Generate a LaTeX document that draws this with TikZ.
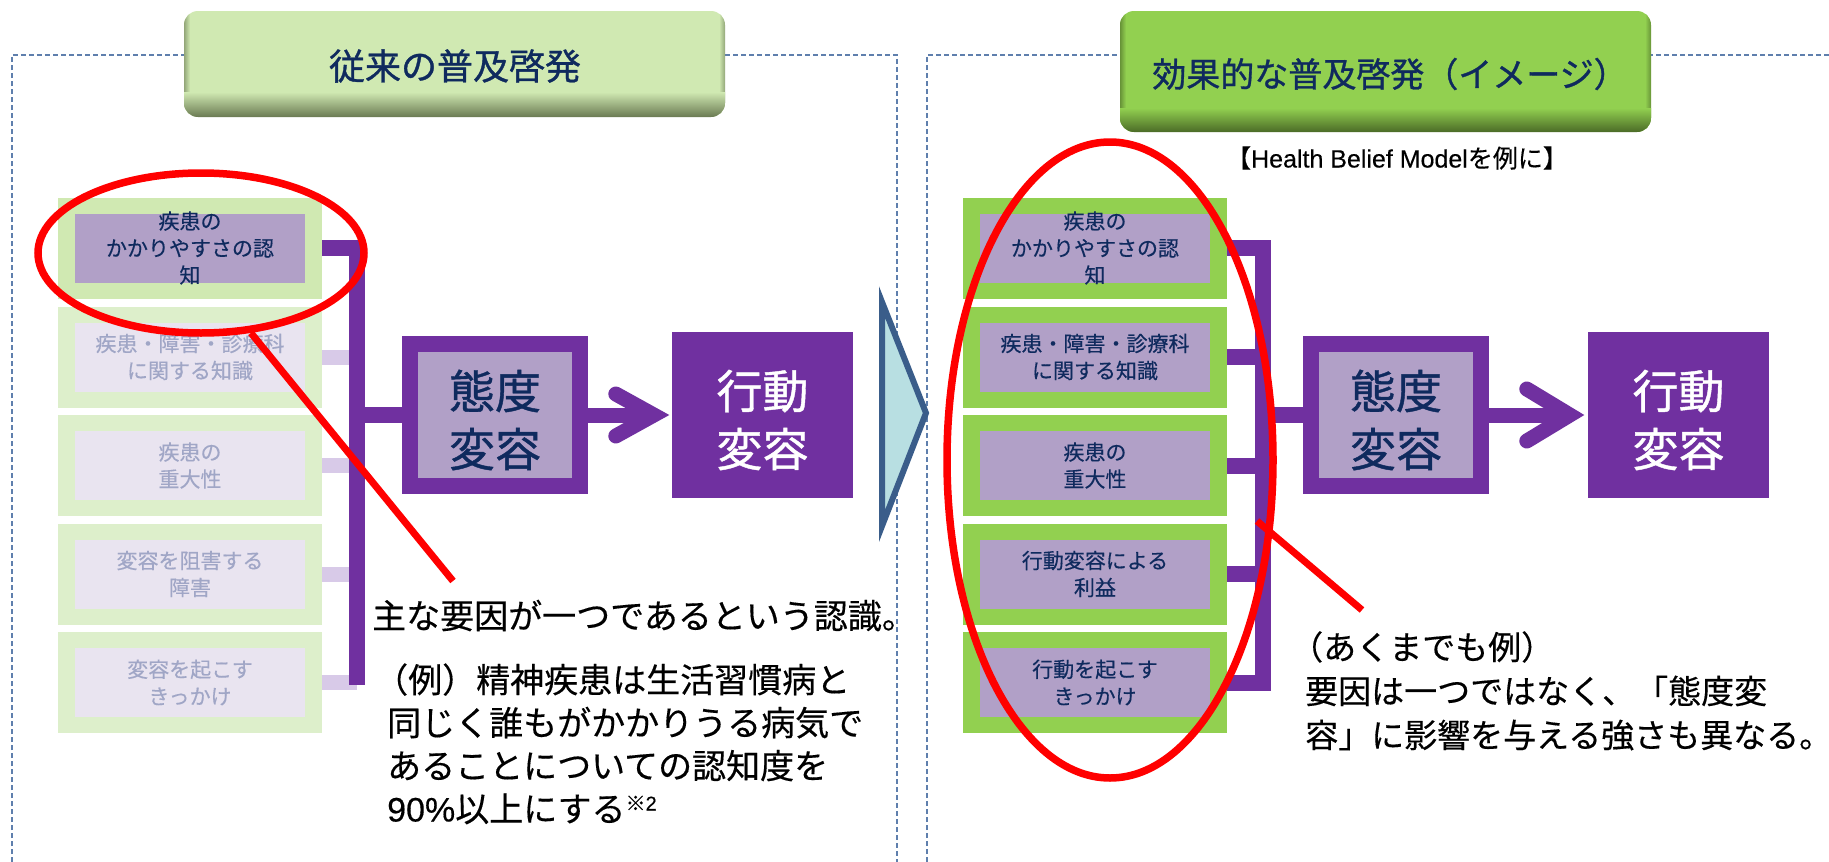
\documentclass[tikz,border=0pt]{standalone}
\usepackage{fontspec}
\setmainfont{Noto Sans CJK JP}
\newfontfamily\jpm{Noto Sans CJK JP}[FakeBold=0.35]
\newfontfamily\jpb{Noto Sans CJK JP}[FakeBold=0.9]
\newfontfamily\lib{Liberation Sans}
\newfontfamily\libm{Liberation Sans}[FakeBold=0.35]
\usetikzlibrary{shapes.geometric,calc}
\definecolor{purp}{HTML}{7030A0}
\definecolor{lav}{HTML}{B1A0C7}
\definecolor{grn}{HTML}{92D050}
\definecolor{lgrn}{HTML}{D0E9B2}
\definecolor{navy}{HTML}{0F2A5E}
\definecolor{framec}{HTML}{5F7FAD}
\definecolor{chevf}{HTML}{B8DFE2}
\definecolor{chevd}{HTML}{3A5D8A}
\definecolor{fgrn}{HTML}{DDEFCB}
\definecolor{flav}{HTML}{E9E4F0}
\definecolor{ftxt}{HTML}{A0A6C6}
\definecolor{fstubc}{HTML}{D8CAE8}
\definecolor{ltdark}{HTML}{6A7A52}
\definecolor{rtdark}{HTML}{4B6B27}
\begin{document}
\begin{tikzpicture}[x=1pt,y=-1pt,
  gbox/.style={minimum width=264pt, minimum height=101pt, inner sep=0pt, outer sep=0pt},
  ibox/.style={minimum width=230pt, minimum height=69pt, inner sep=0pt, outer sep=0pt, fill=lav},
  btxt/.style={font=\jpm\fontsize{21}{27}\selectfont, align=center, text=navy, inner sep=0pt},
  ftext/.style={btxt, text=ftxt},
  bigtxt/.style={font=\jpb\fontsize{46}{58}\selectfont, align=center, inner sep=0pt},
  txtL/.style={font=\jpm\fontsize{34}{44}\selectfont, inner sep=0pt, anchor=base west, text=black},
  txtR/.style={font=\jpm\fontsize{33}{44}\selectfont, inner sep=0pt, anchor=base west, text=black},
  brk/.style={draw=purp, line width=16pt, line join=miter},
  fstub/.style={draw=fstubc, line width=15pt},
  shaft/.style={draw=purp, line width=15pt},
  head/.style={draw=purp, line width=15pt, line cap=round, line join=miter, miter limit=10},
  frm/.style={draw=framec, line width=1.3pt, dash pattern=on 5pt off 3pt},
  redring/.style={ellipse, draw=red, line width=7.5pt, inner sep=0pt, fill=none},
  redl/.style={draw=red, line width=7pt}
]
\useasboundingbox (0,0) rectangle (1829,862);
\fill[white] (0,0) rectangle (1829,862);

% dashed frames
\draw[frm] (12,862) -- (12,55) -- (897,55) -- (897,862);
\draw[frm] (927,862) -- (927,55) -- (1829,55);

% title boxes
\begin{scope}
\clip[rounded corners=14pt] (184,11) rectangle (725,117);
\fill[lgrn] (184,11) rectangle (725,117);
\shade[left color=ltdark!60!lgrn, right color=lgrn] (184,11) rectangle (190,117);
\shade[left color=lgrn, right color=ltdark!60!lgrn] (719,11) rectangle (725,117);
\shade[top color=lgrn, bottom color=ltdark] (184,92) rectangle (725,117);
\end{scope}
\node[font=\jpb\fontsize{36}{40}\selectfont, text=navy, inner sep=0pt] (titL) at (455,66) {従来の普及啓発};

\begin{scope}
\clip[rounded corners=14pt] (1120,11) rectangle (1651,132);
\fill[grn] (1120,11) rectangle (1651,132);
\shade[left color=rtdark!60!grn, right color=grn] (1120,11) rectangle (1126,132);
\shade[left color=grn, right color=rtdark!60!grn] (1645,11) rectangle (1651,132);
\shade[top color=grn, bottom color=rtdark] (1120,108) rectangle (1651,132);
\end{scope}
\node[font=\jpb\fontsize{34}{40}\selectfont, text=navy, inner sep=0pt] (titR) at (1390,74) {効果的な普及啓発（イメージ）};
\node[font=\jpm\fontsize{25}{28}\selectfont, text=black, inner sep=0pt] (hbm) at (1397,158) {【{\libm Health Belief Model}を例に】};

% ---------------- left panel ----------------
\node[gbox, fill=lgrn] (L1o) at (190,248) {};
\node[ibox] (L1i) at (L1o) {};
\node[btxt] (L1t) at (L1o) {疾患の\\かかりやすさの認\\知};

\node[gbox, fill=fgrn] (L2o) at (190,357) {};
\node[ibox, fill=flav] (L2i) at (L2o) {};
\node[ftext] (L2t) at (L2o) {疾患・障害・診療科\\に関する知識};

\node[gbox, fill=fgrn] (L3o) at (190,465.5) {};
\node[ibox, fill=flav] (L3i) at (L3o) {};
\node[ftext] (L3t) at (L3o) {疾患の\\重大性};

\node[gbox, fill=fgrn] (L4o) at (190,574) {};
\node[ibox, fill=flav] (L4i) at (L4o) {};
\node[ftext] (L4t) at (L4o) {変容を阻害する\\障害};

\node[gbox, fill=fgrn] (L5o) at (190,682.5) {};
\node[ibox, fill=flav] (L5i) at (L5o) {};
\node[ftext] (L5t) at (L5o) {変容を起こす\\きっかけ};

\node[minimum width=186pt, minimum height=158pt, fill=purp, inner sep=0pt] (LT) at (495,415) {};
\node[minimum width=154pt, minimum height=126pt, fill=lav, inner sep=0pt] (LTi) at (LT) {};
\node[bigtxt, text=navy] (LTt) at (495,420) {態度\\変容};

\node[minimum width=181pt, minimum height=166pt, fill=purp, inner sep=0pt] (LK) at (762.5,415) {};
\node[bigtxt, text=white] (LKt) at (762.5,420) {行動\\変容};

\coordinate (lbx) at (356.5,0);
\draw[fstub] (L2o.east) -- (L2o.east -| lbx);
\draw[fstub] (L3o.east) -- (L3o.east -| lbx);
\draw[fstub] (L4o.east) -- (L4o.east -| lbx);
\draw[fstub] (L5o.east) -- (L5o.east -| lbx);
\draw[brk] (L1o.east) -- (L1o.east -| lbx) -- ($(L5o.east -| lbx)+(0,2.5)$);
\draw[brk] (LT.west -| lbx) -- (LT.west);

\draw[shaft] (LT.east) -- ($(LK.west)+(-20,0)$);
\draw[head] ($(LK.west)+(-56,-21)$) -- ($(LK.west)+(-18,0)$) -- ($(LK.west)+(-56,21)$);

% ---------------- centre chevron ----------------
\draw[draw=chevd, fill=chevf, line width=6pt, line join=miter] (882,302) -- (926,413) -- (882,526) -- cycle;

% ---------------- right panel ----------------
\node[gbox, fill=grn] (R1o) at (1095,248) {};
\node[ibox] (R1i) at (R1o) {};
\node[btxt] (R1t) at (R1o) {疾患の\\かかりやすさの認\\知};

\node[gbox, fill=grn] (R2o) at (1095,357) {};
\node[ibox] (R2i) at (R2o) {};
\node[btxt] (R2t) at (R2o) {疾患・障害・診療科\\に関する知識};

\node[gbox, fill=grn] (R3o) at (1095,465.5) {};
\node[ibox] (R3i) at (R3o) {};
\node[btxt] (R3t) at (R3o) {疾患の\\重大性};

\node[gbox, fill=grn] (R4o) at (1095,574) {};
\node[ibox] (R4i) at (R4o) {};
\node[btxt] (R4t) at (R4o) {行動変容による\\利益};

\node[gbox, fill=grn] (R5o) at (1095,682.5) {};
\node[ibox] (R5i) at (R5o) {};
\node[btxt] (R5t) at (R5o) {行動を起こす\\きっかけ};

\node[minimum width=186pt, minimum height=158pt, fill=purp, inner sep=0pt] (RT) at (1396,415) {};
\node[minimum width=154pt, minimum height=126pt, fill=lav, inner sep=0pt] (RTi) at (RT) {};
\node[bigtxt, text=navy] (RTt) at (1396,420) {態度\\変容};

\node[minimum width=181pt, minimum height=166pt, fill=purp, inner sep=0pt] (RK) at (1678.5,415) {};
\node[bigtxt, text=white] (RKt) at (1678.5,420) {行動\\変容};

\coordinate (rbx) at (1263,0);
\draw[brk] (R1o.east) -- (R1o.east -| rbx) -- (R5o.east -| rbx) -- (R5o.east);
\draw[brk] (R2o.east) -- (R2o.east -| rbx);
\draw[brk] (R3o.east) -- (R3o.east -| rbx);
\draw[brk] (R4o.east) -- (R4o.east -| rbx);
\draw[brk] (RT.west -| rbx) -- (RT.west);

\draw[shaft] (RT.east) -- ($(RK.west)+(-20,0)$);
\draw[head] ($(RK.west)+(-61,-26)$) -- ($(RK.west)+(-18,0)$) -- ($(RK.west)+(-61,26)$);

% ---------------- red highlights ----------------
\node[redring, minimum width=326pt, minimum height=160pt] (ellL) at (201,253) {};
\node[redring, minimum width=326pt, minimum height=636pt] (ellR) at (1110,460) {};
\coordinate (ptL) at (453,581);
\coordinate (ptR0) at (1257,521);
\coordinate (ptR) at (1362,610);
\draw[redl] (ellL.-58) -- (ptL);
\draw[redl] (ptR0) -- (ptR);

% ---------------- texts ----------------
\node[txtL] (tA) at (372,628.5) {主な要因が一つであるという認識。};
\node[txtL] (tB1) at (374,692.5) {（例）精神疾患は生活習慣病と};
\node[txtL] (tB2) at (387,735.5) {同じく誰もがかかりうる病気で};
\node[txtL] (tB3) at (387,778.5) {あることについての認知度を};
\node[txtL] (tB4) at (387,821.5) {{\libm 90\%}以上にする{\fontsize{20}{20}\selectfont\raisebox{11pt}{※{\libm 2}}}};

\node[txtR] (tC1) at (1290,659.5) {（あくまでも例）};
\node[txtR] (tC2) at (1305,703.5) {要因は一つではなく、「態度変};
\node[txtR] (tC3) at (1305,747.5) {容」に影響を与える強さも異なる。};
\end{tikzpicture}
\end{document}
